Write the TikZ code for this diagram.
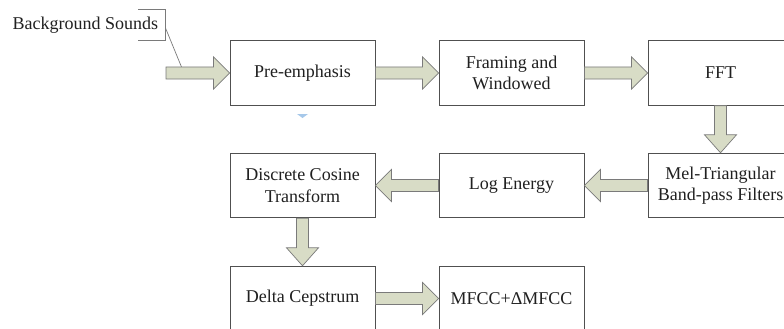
\documentclass[tikz,border=0pt]{standalone}
\usepackage{fontspec}
\setmainfont{Liberation Serif}
\usetikzlibrary{calc}
\definecolor{boxline}{HTML}{505050}
\definecolor{arrfill}{HTML}{D8DCC6}
\definecolor{arrline}{HTML}{7A7A7A}
\definecolor{txt}{HTML}{202020}
\definecolor{cursorblue}{HTML}{A6C8EA}
\tikzset{
  procbox/.style={draw=boxline, line width=0.9pt, fill=white, minimum width=145pt, minimum height=64.5pt,
    align=center, text=txt, font=\fontsize{18}{21.5}\selectfont, inner sep=0pt},
  barrow/.style={draw=arrline, line width=0.7pt, fill=arrfill, line join=miter},
  callout/.style={draw=arrline, line width=0.7pt}
}
\newcommand{\blockarrow}[3][16pt]{%
  \coordinate (ba-s) at (#2);
  \coordinate (ba-e) at (#3);
  \coordinate (ba-h) at ($(ba-e)!#1!(ba-s)$);
  \draw[barrow] ($(ba-s)!6pt!90:(ba-e)$) -- ($(ba-h)!6pt!-90:(ba-s)$) --
     ($(ba-h)!16pt!-90:(ba-s)$) -- (ba-e) -- ($(ba-h)!16pt!90:(ba-s)$) --
     ($(ba-h)!6pt!90:(ba-s)$) -- ($(ba-s)!6pt!-90:(ba-e)$) -- cycle;
}
\begin{document}
\begin{tikzpicture}[x=1pt,y=-1pt]
\useasboundingbox (0,0) rectangle (784,329);
\clip (0,0) rectangle (784,329);
\fill[white] (0,0) rectangle (784,329);
% boxes
\node[procbox] (pre) at (302.5,73) {Pre-emphasis};
\node[procbox] (frm) at (511.5,73) {Framing and\\Windowed};
\node[procbox] (fft) at (720.5,73) {FFT};
\node[procbox] (mel) at (720.5,185.5) {Mel-Triangular\\Band-pass Filters};
\node[procbox] (log) at (511.5,185.5) {Log Energy};
\node[procbox] (dct) at (302.5,185.5) {Discrete Cosine\\Transform};
\node[procbox] (dlt) at (302.5,298.5) {Delta Cepstrum};
\node[procbox] (out) at (511.5,298.5) {MFCC+ΔMFCC};
% input label
\node[anchor=base west, inner sep=0pt, text=txt, font=\fontsize{18}{21.5}\selectfont] (bg) at (12.5,30) {Background Sounds};
\coordinate (in) at (166,73);
\coordinate (c1) at (138,9);
\coordinate (c2) at (165,9);
\coordinate (c3) at (165,40);
\coordinate (c4) at (138,40);
\coordinate (c5) at (165.5,28);
\coordinate (c6) at (181.5,67);
\draw[callout] (c1) -- (c2) -- (c3) -- (c4);
\draw[callout] (c5) -- (c6);
% block arrows
\blockarrow{in}{pre.west}
\blockarrow{pre.east}{frm.west}
\blockarrow{frm.east}{fft.west}
\blockarrow[18pt]{fft.south}{mel.north}
\blockarrow{mel.west}{log.east}
\blockarrow{log.west}{dct.east}
\blockarrow[18pt]{dct.south}{dlt.north}
\blockarrow{dlt.east}{out.west}
% small blue marker
\coordinate (m) at (302.5,118);
\fill[cursorblue] ($(m)+(-5.5,-4)$) -- ($(m)+(5.5,-4)$) -- (m) -- cycle;
\end{tikzpicture}
\end{document}
